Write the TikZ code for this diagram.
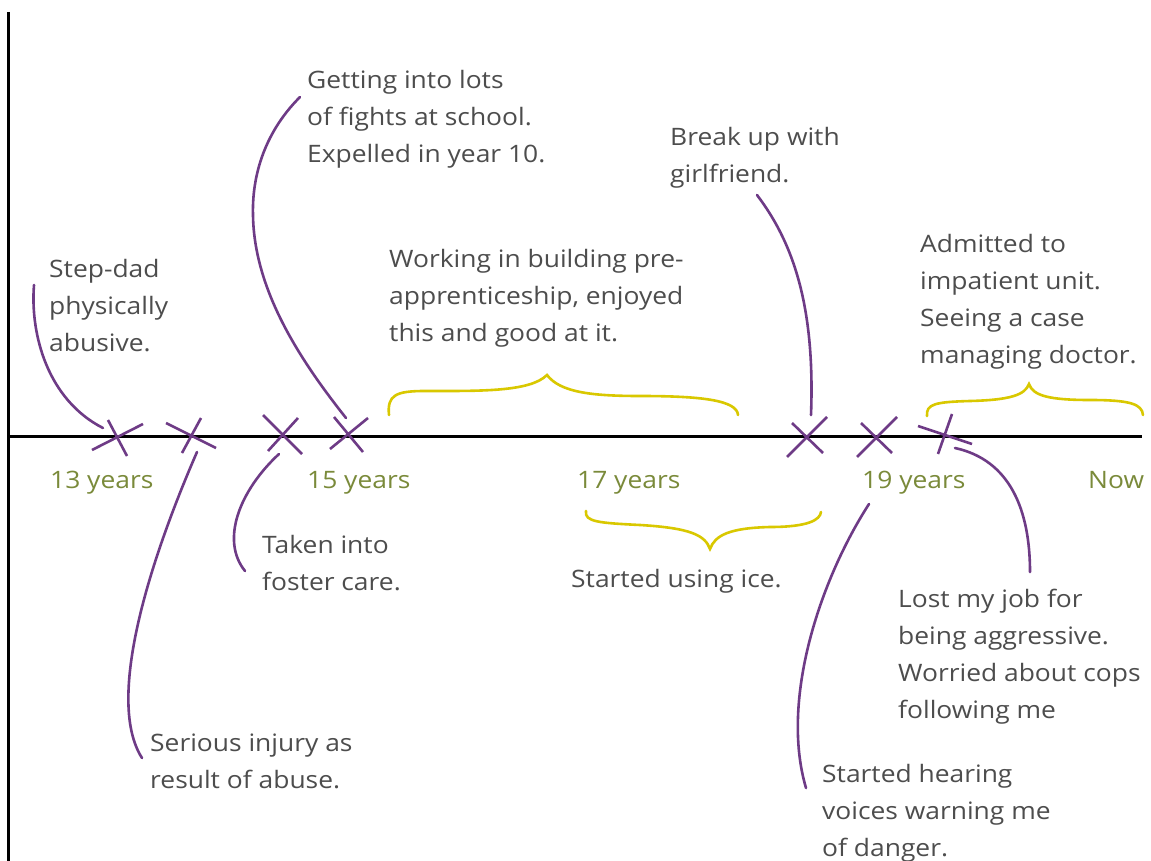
\documentclass[tikz,border=0pt]{standalone}
\usepackage{fontspec}
\setmainfont[FakeStretch=1.1]{Open Sans}
\definecolor{ink}{HTML}{4D4D4D}
\definecolor{age}{HTML}{7A8A3A}
\definecolor{plum}{HTML}{6E3B86}
\definecolor{bracecol}{HTML}{D9C800}
\tikzset{
  note/.style={anchor=north west, inner sep=0pt, align=left, text=ink,
    font=\fontsize{24}{37}\selectfont},
  agelbl/.style={anchor=base west, inner sep=0pt, text=age,
    font=\fontsize{24}{37}\selectfont},
  axisline/.style={black, line width=3pt},
  link/.style={plum, line width=2.6pt, line cap=round},
  xstroke/.style={plum, line width=2.6pt},
  bracket/.style={bracecol, line width=2.6pt, line cap=round},
}
\begin{document}
\begin{tikzpicture}[x=1pt, y=-1pt]
\useasboundingbox[fill=white] (0,0) rectangle (1151,861);

% axes
\coordinate (vtop) at (8,12);
\coordinate (vbot) at (8,861);
\coordinate (hl) at (8,436);
\coordinate (hr) at (1142,436);
\draw[axisline] (vtop) -- (vbot);
\draw[axisline] (hl) -- (hr);

% event crosses on the time line
\draw[xstroke] (92,450) -- (143,424) (108,420) -- (127,456);
\draw[xstroke] (166,423) -- (216,448) (201,418) -- (182,453);
\draw[xstroke] (263,415) -- (302,454) (298,418) -- (268,451);
\draw[xstroke] (334,417) -- (363,452) (368,418) -- (330,449);
\draw[xstroke] (792,423) -- (823,453) (827,417) -- (787,457);
\draw[xstroke] (861,423) -- (892,453) (897,417) -- (857,457);
\draw[xstroke] (918,426) -- (972,444) (952,414) -- (938,454);

% age labels
\node[agelbl] (y13) at (50,488) {13 years};
\node[agelbl] (y15) at (307,488) {15 years};
\node[agelbl] (y17) at (577,488) {17 years};
\node[agelbl] (y19) at (862,488) {19 years};
\node[agelbl] (now) at (1088,488) {Now};

% notes
\node[note] (stepdad) at (49,259) {Step-dad\\physically\\abusive.};
\node[note] (fights) at (307,70) {Getting into lots\\of fights at school.\\Expelled in year 10.};
\node[note] (work) at (389,249) {Working in building pre-\\apprenticeship, enjoyed\\this and good at it.};
\node[note] (breakup) at (670,127) {Break up with\\girlfriend.};
\node[note] (admit) at (920,234) {Admitted to\\impatient unit.\\Seeing a case\\managing doctor.};
\node[note] (foster) at (262,535) {Taken into\\foster care.};
\node[note] (ice) at (571,569) {Started using ice.};
\node[note] (injury) at (150,734) {Serious injury as\\result of abuse.};
\node[note] (job) at (898,589) {Lost my job for\\being aggressive.\\Worried about cops\\following me};
\node[note] (voices) at (822,764) {Started hearing\\voices warning me\\of danger.};

% connector end points
\coordinate (s1) at (34,285);   \coordinate (e1) at (103,428);
\coordinate (s2) at (300,97);   \coordinate (e2) at (346,418);
\coordinate (s3) at (757,195);  \coordinate (e3) at (811,415);
\coordinate (s4) at (197,452);  \coordinate (e4) at (142,758);
\coordinate (s5) at (279,454);  \coordinate (e5) at (245,571);
\coordinate (s6) at (869,504);  \coordinate (e6) at (806,788);
\coordinate (s7) at (955,448);  \coordinate (e7) at (1030,572);

\draw[link] (s1) .. controls (30,335) and (48,400) .. (e1);
\draw[link] (s2) .. controls (262,135) and (252,180) .. (253,215)
                 .. controls (254,290) and (300,360) .. (e2);
\draw[link] (s3) .. controls (795,245) and (815,310) .. (e3);
\draw[link] (s4) .. controls (150,560) and (105,700) .. (e4);
\draw[link] (s5) .. controls (240,490) and (220,540) .. (e5);
\draw[link] (s6) .. controls (820,580) and (780,700) .. (e6);
\draw[link] (s7) .. controls (1010,460) and (1030,510) .. (e7);

% period braces
\draw[bracket] (389,415) .. controls (387,395) and (396,391) .. (425,391)
  .. controls (480,391) and (530,392) .. (547,375)
  .. controls (560,392) and (590,396) .. (640,396)
  .. controls (700,396) and (737,400) .. (738,415);
\draw[bracket] (586,511) .. controls (584,522) and (600,523) .. (640,525)
  .. controls (690,528) and (705,535) .. (710,549)
  .. controls (715,535) and (730,528) .. (770,527)
  .. controls (808,527) and (820,520) .. (821,512);
\draw[bracket] (927,416) .. controls (926,404) and (935,402) .. (970,401)
  .. controls (1010,400) and (1025,395) .. (1029,384)
  .. controls (1033,396) and (1050,400) .. (1090,400)
  .. controls (1130,400) and (1142,404) .. (1143,415);
\end{tikzpicture}
\end{document}
